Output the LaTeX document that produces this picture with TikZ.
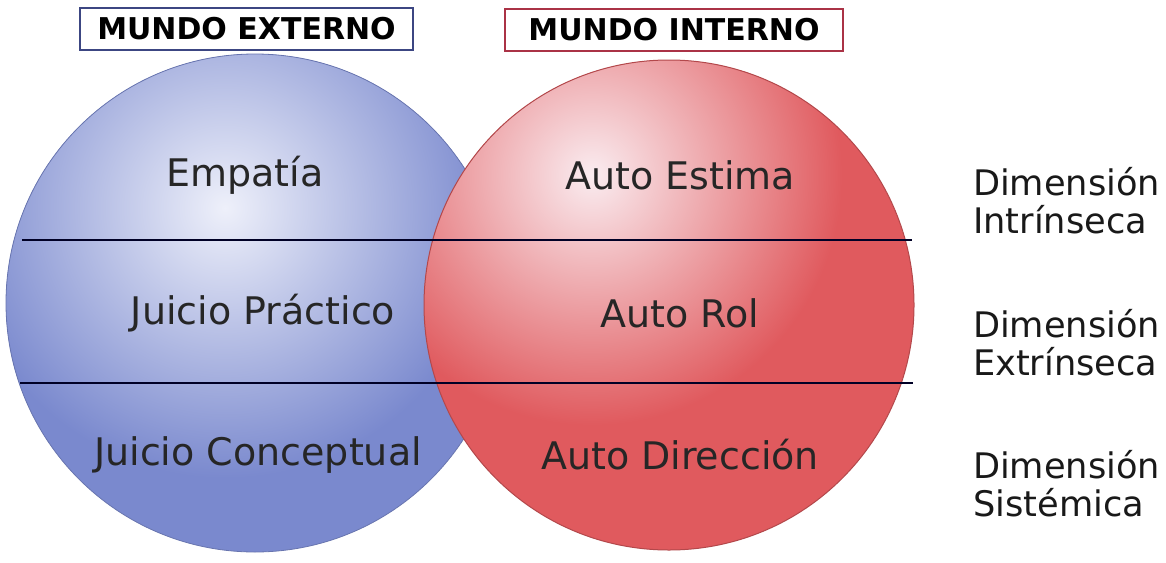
\documentclass[tikz,border=0pt]{standalone}
\usepackage{fontspec}
\setmainfont{DejaVu Sans}

\definecolor{azulbase}{RGB}{122,137,206}
\definecolor{azulluz}{RGB}{238,240,250}
\definecolor{azulborde}{RGB}{60,70,130}
\definecolor{rojobase}{RGB}{224,90,94}
\definecolor{rojoluz}{RGB}{250,236,240}
\definecolor{rojoborde}{RGB}{170,50,70}

\tikzset{
  titulo/.style={draw, line width=0.9pt, minimum height=21pt, inner sep=0pt,
    font=\bfseries\fontsize{15}{17}\selectfont},
  campo/.style={text=black!85, font=\fontsize{19}{22}\selectfont},
  dimension/.style={anchor=west, align=left, text=black!90,
    font=\fontsize{17.6}{19}\selectfont},
  linea/.style={draw=black!85!blue, line width=1pt}
}

\begin{document}
\begin{tikzpicture}[x=0.5pt, y=-0.5pt]
    \useasboundingbox (0,0) rectangle (1166,562);

    % mundo externo
    \begin{scope}
        \clip (255,303) circle (249);
        \fill[azulbase] (255,303) circle (249);
        \shade[inner color=azulluz, outer color=azulbase] (225,208) circle (270);
    \end{scope}
    \draw[azulbase!85!black, line width=0.4pt] (255,303) circle (249);

    % mundo interno
    \begin{scope}
        \clip (669,305) circle (245);
        \fill[rojobase] (669,305) circle (245);
        \shade[inner color=rojoluz, outer color=rojobase] (592,175) circle (250);
    \end{scope}
    \draw[rojobase!80!black, line width=0.5pt] (669,305) circle (245);

    % divisiones
    \coordinate (izqA) at (22,240);
    \coordinate (derA) at (912,240);
    \coordinate (izqB) at (20,383);
    \coordinate (derB) at (913,383);
    \draw[linea] (izqA) -- (derA);
    \draw[linea] (izqB) -- (derB);

    % titulos
    \node[titulo, draw=azulborde, minimum width=166.5pt] (externo) at (246.5,29) {MUNDO EXTERNO};
    \node[titulo, draw=rojoborde, minimum width=169pt] (interno) at (674,30) {MUNDO INTERNO};

    % contenidos
    \node[campo] (empatia) at (245,175) {Empatía};
    \node[campo] (practico) at (263,313) {Juicio Práctico};
    \node[campo] (conceptual) at (258,455) {Juicio Conceptual};
    \node[campo] (estima) at (680,175) {Auto Estima};
    \node[campo] (rol) at (680,313) {Auto Rol};
    \node[campo] (direccion) at (680,455) {Auto Dirección};

    % dimensiones
    \node[dimension] (intrinseca) at (966,201) {Dimensión\\Intrínseca};
    \node[dimension] (extrinseca) at (966,343) {Dimensión\\Extrínseca};
    \node[dimension] (sistemica) at (966,484) {Dimensión\\Sistémica};
\end{tikzpicture}
\end{document}
